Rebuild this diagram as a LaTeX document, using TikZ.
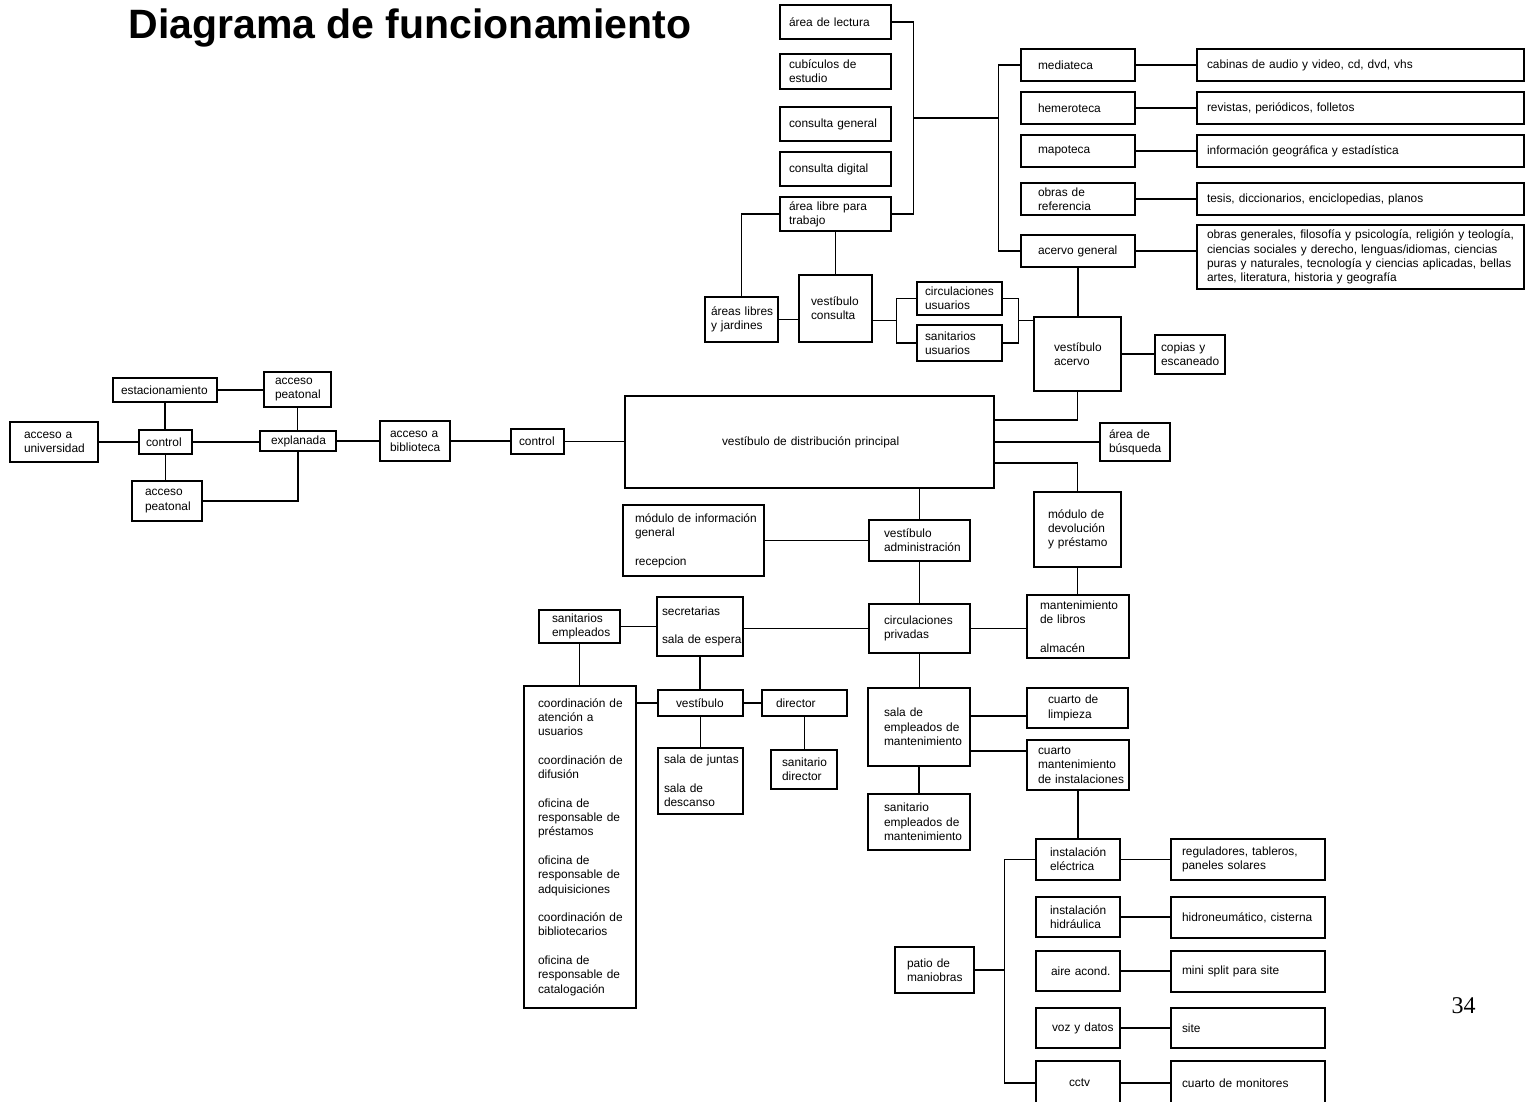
\documentclass[tikz,border=0pt]{standalone}
\usepackage{fontspec}
\setmainfont{Liberation Sans}
\newfontfamily\numfont{Liberation Serif}
\usetikzlibrary{calc}

\begin{document}
\begin{tikzpicture}[x=1pt,y=-1pt,
  blk/.style={draw,line width=1.2pt,inner sep=0pt,align=left,
    font=\fontsize{11.9}{14.3}\selectfont},
  lnk/.style={line width=1.2pt},
  ttl/.style={font=\fontsize{41}{45}\selectfont\bfseries},
  pnum/.style={font=\numfont\fontsize{24}{28}\selectfont}]

\useasboundingbox (0,0) rectangle (1537,1101);

\node[ttl,anchor=base west] (titulo) at (125,38) {Diagrama de funcionamiento};
\node[pnum,anchor=base west] (pag) at (1448,1013) {34};

% name/x1/y1/x2/y2/inset/text
\def\bloques{lec/780/5/891/39/9/{área de lectura},
  cub/780/54/891/89/9/{cubículos de\\estudio},
  cgen/780/107/891/141/9/{consulta general},
  cdig/780/152/891/186/9/{consulta digital},
  alib/780/197/891/231/9/{área libre para\\trabajo},
  med/1021/49/1135/81/17/{mediateca},
  hem/1021/92/1135/124/17/{hemeroteca},
  map/1021/135/1135/167/17/{mapoteca},
  oref/1021/183/1135/215/17/{obras de\\referencia},
  acg/1021/235/1135/267/17/{acervo general},
  cab/1197/49/1524/81/10/{cabinas de audio y video, cd, dvd, vhs},
  rev/1197/92/1524/124/10/{revistas, periódicos, folletos},
  inf/1197/135/1524/167/10/{información geográfica y estadística},
  tes/1197/183/1524/215/10/{tesis, diccionarios, enciclopedias, planos},
  obg/1197/225/1524/289/10/{obras generales, filosofía y psicología, religión y teología,\\ciencias sociales y derecho, lenguas/idiomas, ciencias\\puras y naturales, tecnología y ciencias aplicadas, bellas\\artes, literatura, historia y geografía},
  jar/705/297/778/342/6/{áreas libres\\y jardines},
  vcon/799/275/872/342/12/{vestíbulo\\consulta},
  cusu/917/282/1002/315/8/{circulaciones\\usuarios},
  susu/917/325/1002/361/8/{sanitarios\\usuarios},
  vacv/1034/317/1121/391/20/{vestíbulo\\acervo},
  cop/1155/335/1225/374/6/{copias y\\escaneado},
  univ/10/422/98/462/14/{acceso a\\universidad},
  ctl/139/430/192/454/7/{control},
  est/113/378/217/402/8/{estacionamiento},
  pea/264/372/331/407/11/{acceso\\peatonal},
  exp/260/431/336/451/11/{explanada},
  peb/132/481/202/521/13/{acceso\\peatonal},
  bib/380/421/450/461/10/{acceso a\\biblioteca},
  ctr/511/429/564/454/8/{control},
  vp/625/396/994/488/97/{vestíbulo de distribución principal},
  bus/1100/423/1170/461/9/{área de\\búsqueda},
  minf/623/505/764/576/12/{módulo de información\\general\\[\baselineskip]recepcion},
  vadm/869/520/970/561/15/{vestíbulo\\administración},
  cpri/869/604/970/653/15/{circulaciones\\privadas},
  mdev/1034/492/1121/567/14/{módulo de\\devolución\\y préstamo},
  mlib/1027/595/1129/658/13/{mantenimiento\\de libros\\[\baselineskip]almacén},
  sec/657/597/743/656/5/{secretarias\\[\baselineskip]sala de espera},
  semp/539/610/620/643/13/{sanitarios\\empleados},
  coord/524/686/636/1008/14/{coordinación de\\atención a\\usuarios\\[\baselineskip]coordinación de\\difusión\\[\baselineskip]oficina de\\responsable de\\préstamos\\[\baselineskip]oficina de\\responsable de\\adquisiciones\\[\baselineskip]coordinación de\\bibliotecarios\\[\baselineskip]oficina de\\responsable de\\catalogación},
  vest/658/690/743/716/18/{vestíbulo},
  dir/762/690/847/716/14/{director},
  sj/658/748/743/814/6/{sala de juntas\\[\baselineskip]sala de\\descanso},
  sdir/771/750/837/789/11/{sanitario\\director},
  semt/868/688/970/766/16/{sala de\\empleados de\\mantenimiento},
  clim/1027/688/1128/728/21/{cuarto de\\limpieza},
  cmi/1027/740/1129/790/11/{cuarto\\mantenimiento\\de instalaciones},
  sanm/868/794/970/850/16/{sanitario\\empleados de\\mantenimiento},
  iel/1036/839/1120/880/14/{instalación\\eléctrica},
  ihi/1036/897/1120/937/14/{instalación\\hidráulica},
  aac/1036/951/1120/991/15/{aire acond.},
  vyd/1036/1008/1120/1048/16/{voz y datos},
  cctv/1036/1061/1120/1105/33/{cctv},
  reg/1171/839/1325/880/11/{reguladores, tableros,\\paneles solares},
  hid/1171/897/1325/938/11/{hidroneumático, cisterna},
  msp/1171/951/1325/992/11/{mini split para site},
  site/1171/1008/1325/1048/11/{site},
  mon/1171/1061/1325/1105/11/{cuarto de monitores},
  pat/895/947/974/993/12/{patio de\\maniobras}}
\foreach \n/\xa/\ya/\xb/\yb/\lx/\txt in \bloques {
  \pgfmathsetmacro\bw{\xb-\xa}
  \pgfmathsetmacro\bh{\yb-\ya}
  \node[blk,minimum width=\bw pt,minimum height=\bh pt,text width=\bw pt]
    (\n) at ({(\xa+\xb)/2},{(\ya+\yb)/2}) {\leftskip=\lx pt \txt\par};
}

% consulta
\draw[lnk] (lec.east) -- ++(22,0) coordinate (kl) |- (alib.east);
\draw[lnk] (med.west) -- ++(-22,0) coordinate (kr) |- (acg.west);
\draw[lnk] ($(kl)!.5!(kl |- alib.east)$) coordinate (km) -- (km -| kr);
\foreach \a/\b in {med/cab,hem/rev,map/inf,oref/tes,acg/obg}
  \draw[lnk] (\a.east) -- (\a.east -| \b.west);
\draw[lnk] (acg.south) -- (acg.south |- vacv.north);
\draw[lnk] (alib.south) -- (alib.south |- vcon.north);
\draw[lnk] (jar.north) |- (alib.west);
\draw[lnk] (jar.east) -- (jar.east -| vcon.west);
\draw[lnk] (cusu.west) -- ++(-20,0) coordinate (bl) |- (susu.west);
\draw[lnk] ($(bl)!.5!(bl |- susu.west)$) coordinate (bm) -- (bm -| vcon.east);
\draw[lnk] (cusu.east) -- ++(16,0) coordinate (br) |- (susu.east);
\draw[lnk] ($(br)!.5!(br |- susu.east)$) coordinate (bn) -- (bn -| vacv.west);
\draw[lnk] (vacv.east) -- (vacv.east -| cop.west);

% accesos
\draw[lnk] (univ.east) -- (univ.east -| ctl.west);
\draw[lnk] (ctl.east) -- (ctl.east -| exp.west);
\draw[lnk] (exp.east) -- (exp.east -| bib.west);
\draw[lnk] (bib.east) -- (bib.east -| ctr.west);
\draw[lnk] (ctr.east) -- (ctr.east -| vp.west);
\draw[lnk] (est.south) -- (est.south |- ctl.north);
\draw[lnk] (ctl.south) -- (ctl.south |- peb.north);
\draw[lnk] (est.east) -- (est.east -| pea.west);
\draw[lnk] (pea.south) -- (pea.south |- exp.north);
\draw[lnk] (peb.east) -| (exp.south);

% vestibulo principal
\draw[lnk] ([yshift=22pt]vp.east) -| (vacv.south);
\draw[lnk] (vp.east) -- (vp.east -| bus.west);
\draw[lnk] ([yshift=-21pt]vp.east) -| (mdev.north);
\draw[lnk] (vp.south -| vadm.north) -- (vadm.north);

% administracion
\draw[lnk] (minf.east) -- (minf.east -| vadm.west);
\draw[lnk] (vadm.south) -- (cpri.north);
\draw[lnk] (mdev.south) -- (mdev.south |- mlib.north);
\draw[lnk] (cpri.east) -- (cpri.east -| mlib.west);
\draw[lnk] (cpri.west) -- (cpri.west -| sec.east);
\draw[lnk] (sec.west) -- (sec.west -| semp.east);
\draw[lnk] (semp.south) -- (semp.south |- coord.north);
\draw[lnk] (sec.south) -- (sec.south |- vest.north);
\draw[lnk] (coord.east |- vest.west) -- (vest.west);
\draw[lnk] (vest.east) -- (vest.east -| dir.west);
\draw[lnk] (vest.south) -- (vest.south |- sj.north);
\draw[lnk] (dir.south) -- (dir.south |- sdir.north);

% mantenimiento
\draw[lnk] (cpri.south) -- (cpri.south |- semt.north);
\draw[lnk] (semt.south) -- (semt.south |- sanm.north);
\draw[lnk] ([yshift=11pt]semt.east) -- ([yshift=11pt]semt.east -| clim.west);
\draw[lnk] ([yshift=-24pt]semt.east) -- ([yshift=-24pt]semt.east -| cmi.west);
\draw[lnk] (cmi.south) -- (cmi.south |- iel.north);
\draw[lnk] (iel.west) -- ++(-31,0) coordinate (kp) |- (cctv.west);
\draw[lnk] (pat.east) -- (pat.east -| kp);
\foreach \a/\b in {iel/reg,ihi/hid,aac/msp,vyd/site,cctv/mon}
  \draw[lnk] (\a.east) -- (\a.east -| \b.west);

\end{tikzpicture}
\end{document}
